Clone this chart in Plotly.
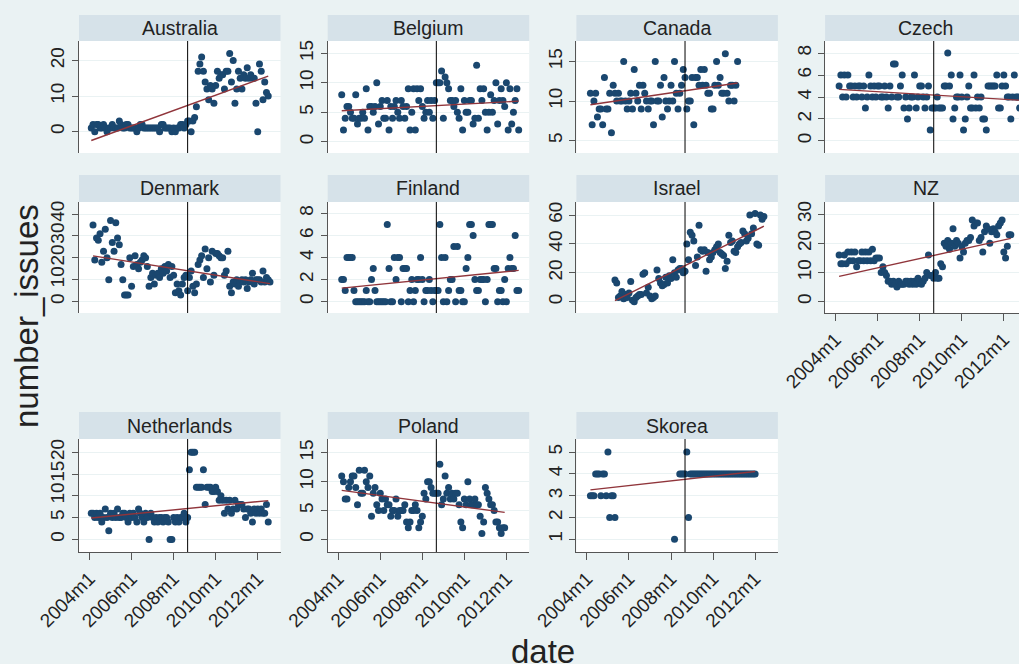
import numpy as np
import plotly.graph_objects as go

# ---------------- data (monthly number of issues) ----------------
countries = ["Australia", "Belgium", "Canada", "Czech", "Denmark", "Finland",
             "Israel", "NZ", "Netherlands", "Poland", "Skorea"]

tick_labels = ["2004m1", "2006m1", "2008m1", "2010m1", "2012m1"]
event_label = "2008m9"

australia_start = "2004m2"
australia = [1, 2, 0, 2, 2, 1, 1, 2, 1, 0, 1, 1, 2, 1, 1, 1, 3, 2, 1, 1,
             2, 2, 1, 1, 1, 1, 0, 1, 2, 2, 1, 1, 1, 1, 1, 1, 1, 1, 1, 0,
             2, 2, 1, 1, 1, 1, 0, 1, 0, 1, 1, 2, 2, 1,
             2, 3, 3, 0, 3, 4, 7,
             17, 19, 21, 17, 14, 12, 9, 13, 12, 8, 13, 17, 15, 16, 16, 12, 17, 17, 22, 14,
             20, 8, 12, 17, 15, 12, 16, 15, 18, 15, 16, 15, 15, 8, 0, 19, 17, 9, 14, 11, 10]

belgium_start = "2004m3"
belgium = [8, 2, 4, 6, 6, 5, 4, 4, 8, 3, 4, 4, 5, 4, 9, 2, 6, 6, 5, 6,
           10, 3, 6, 7, 4, 4, 7, 2, 6, 4, 6, 7, 5, 4, 7, 6, 4, 6, 9, 2,
           5, 9, 2, 9, 7, 9, 6, 4, 5, 7, 5, 7, 4, 7,
           10, 10, 10, 12, 4, 11, 10, 9, 7, 7, 6, 7, 5, 4, 9, 2, 7, 5, 5, 7,
           7, 3, 4, 13, 4, 9, 7, 9, 5, 2, 5, 8, 5, 7, 10, 3, 7, 9, 7, 6,
           10, 2, 9, 3, 5, 7, 9, 2]

canada_start = "2004m3"
canada = [11, 7, 10, 11, 8, 9, 9, 7, 13, 9, 9, 11, 6, 12, 11, 10, 11, 10, 10,
          15, 10, 9, 10, 11, 9, 14, 11, 10, 12, 9, 12, 11, 10, 9, 10, 10, 7, 15,
          10, 10, 12, 8, 13, 10, 9, 10, 12, 10, 15, 11, 9, 11, 12, 14, 13, 9, 10,
          10, 13, 7, 13, 13, 12, 14, 12, 14, 12, 11, 11, 9, 9, 12, 15, 12, 13, 11,
          11, 16, 11, 10, 12, 12, 10, 12, 15]

czech_start = "2004m3"
czech = [5, 6, 4, 6, 4, 6, 5, 5, 4, 5, 4, 5, 5, 4, 5, 3, 4, 6,
         5, 4, 5, 4, 5, 5, 4, 4, 5, 4, 3, 5, 4, 7, 7, 4, 4, 5, 6,
         3, 4, 2, 3, 4, 4, 6, 3, 4, 5, 5, 4, 3, 4, 5, 1, 3, 3, 3, 4,
         3, 3, 3, 5, 5, 8, 5, 6, 2, 3, 4, 4, 6, 4, 1, 2, 4, 5, 3, 3,
         6, 3, 4, 3, 4, 2, 2, 1, 5, 5, 5, 5, 5, 6, 3, 3, 5, 6, 5, 4,
         4, 2, 4, 6, 4, 4, 3]

denmark_start = "2004m3"
denmark = [35, 19, 29, 28, 31, 18, 23, 33, 20, 10, 37, 27, 23, 36, 29, 26, 17, 10, 3,
           3, 3, 20, 7, 16, 21, 17, 15, 18, 19, 21, 20, 16, 7, 11, 13, 8, 12, 13,
           11, 15, 13, 16, 14, 17, 11, 16, 12, 4, 8, 5, 3, 8, 11, 12, 5, 11, 14,
           7, 4, 8, 17, 19, 21, 11, 24, 15, 20, 9, 23, 12, 22, 22, 21, 20, 20, 12, 14,
           23, 7, 4, 9, 8, 10, 7, 9, 10, 9, 10, 6, 9, 10, 13, 8, 10, 10,
           10, 9, 14, 9, 11, 10, 9]

finland_start = "2004m3"
finland = [2, 2, 1, 4, 4, 4, 4, 1, 0, 0, 0, 0, 0, 0, 1, 0, 0, 2, 3, 1,
           0, 0, 0, 0, 0, 0, 7, 3, 0, 0, 4, 2, 4, 4, 0, 3, 3, 3,
           0, 1, 2, 0, 1, 2, 2, 4, 2, 0, 1, 1, 2, 1, 0, 1, 1, 1,
           7, 4, 0, 4, 0, 1, 2, 2, 5, 0, 5, 1, 1, 0, 0,
           3, 4, 7, 7, 6, 2, 1, 1, 2, 2, 2, 0, 2,
           7, 7, 7, 3, 3, 0, 1, 1, 0, 2, 0, 3, 4, 3, 3, 6, 1, 1]

israel_start = "2005m5"
israel = [15, 13, 3, 4, 7, 2, 5, 3, 6, 14, 1, 0, 3, 4, 5, 5, 19, 20,
          6, 10, 4, 2, 3, 4, 22, 16, 13, 11, 12, 17, 13, 18, 16, 29, 20, 17, 22,
          23, 23, 20, 21, 40, 29, 48, 46, 42, 25, 31, 53, 36, 35, 36, 21, 34, 29, 31, 34,
          36, 38, 40, 34, 33, 32, 23, 28, 46, 41, 42, 35, 34, 38, 40, 41, 49, 47,
          42, 44, 60, 47, 51, 61, 40, 39, 60, 57, 59]

nz_start = "2004m3"
nz = [16, 13, 13, 16, 13, 17, 14, 17, 14, 17, 12, 14, 14, 17, 14, 17, 14, 17, 14, 18,
      14, 15, 15, 15, 10, 12, 10, 9, 7, 7,
      6, 7, 6, 5, 7, 6, 6, 6, 7, 7, 6, 7, 6, 7, 6, 8, 7, 6, 7, 8, 10, 16, 9,
      9, 8, 10, 8, 8, 13, 12,
      20, 19, 21, 18, 20, 25, 19, 21, 20, 15, 19, 17, 20, 21, 21,
      22, 28, 26, 27, 27, 21, 22, 17, 24, 26,
      25, 20, 24, 25, 24, 23, 26, 27, 28, 17, 15, 19, 23, 23]

netherlands_start = "2004m2"
netherlands = [6, 6, 5, 6, 5, 6, 4, 5, 7, 5, 2, 6, 5, 6, 5, 7, 5, 5, 6, 6,
               5, 4, 6, 5, 6, 5, 4, 7, 6, 5, 4, 6, 5, 0, 6, 5, 4, 5, 4, 5,
               5, 4, 5, 5, 4, 0, 0, 5, 4, 5, 4, 5, 5, 6, 4,
               5, 16, 20, 20, 20, 12, 12, 12, 12, 16, 8, 12, 12, 12, 11, 11, 12, 11, 9, 10,
               9, 6, 9, 7, 9, 6, 7, 9, 7, 8, 8, 8, 7, 5, 7, 7, 6, 4, 7, 6,
               7, 6, 7, 6, 6, 8, 4]

poland_start = "2004m3"
poland = [11, 10, 7, 7, 9, 10, 11, 11, 9, 6, 12, 8, 8, 12, 10, 9, 11, 4, 8, 9,
          6, 5, 8, 7, 5, 7, 6, 6, 4, 5, 5, 7, 4, 5, 5, 5, 6, 3,
          2, 3, 5, 5, 6, 5, 2, 3, 4, 8, 7, 10, 10, 9, 8, 8, 8, 8, 13, 6,
          7, 11, 8, 9, 7, 8, 7, 8, 8, 6, 3, 2, 7, 6, 10, 7, 6, 6, 7,
          6, 6, 4, 1, 3, 9, 8, 7, 6, 6, 5, 3, 3, 2, 1, 2, 2]

skorea_start_a = "2004m3"
skorea_a = [3, 3, 3, 4, 4, 4, 3, 4, 4, 3, 5, 2, 3, 3, 2]
skorea_start_b = "2008m3"
skorea_b = [1]
skorea_start_c = "2008m6"
skorea_c = [4, 4, 4, 4, 5, 2, 4, 4, 4, 4, 4, 4, 4, 4, 4, 4, 4, 4, 4, 4, 4, 4,
            4, 4, 4, 4, 4, 4, 4, 4, 4, 4, 4, 4, 4, 4, 4, 4, 4, 4, 4, 4, 4, 4]


def month_index(label):
    y, m = label.split("m")
    return (int(y) - 2004) * 12 + int(m) - 1


def series(start, values):
    s = month_index(start)
    return list(range(s, s + len(values))), list(values)


data = {
    "Australia": series(australia_start, australia),
    "Belgium": series(belgium_start, belgium),
    "Canada": series(canada_start, canada),
    "Czech": series(czech_start, czech),
    "Denmark": series(denmark_start, denmark),
    "Finland": series(finland_start, finland),
    "Israel": series(israel_start, israel),
    "NZ": series(nz_start, nz),
    "Netherlands": series(netherlands_start, netherlands),
    "Poland": series(poland_start, poland),
}
sk = [series(skorea_start_a, skorea_a), series(skorea_start_b, skorea_b),
      series(skorea_start_c, skorea_c)]
data["Skorea"] = (sum([a[0] for a in sk], []), sum([a[1] for a in sk], []))

# ---------------- styling / layout ----------------
W, H = 1019, 664
BG = "#EAF2F3"
STRIP = "#D6E2E9"
NAVY = "#1A476F"
MAROON = "#90353B"
FONT = "Liberation Sans, Arial, sans-serif"
TXT = "#222222"
AX = "#555555"

grid_pos = {"Australia": (0, 0), "Belgium": (0, 1), "Canada": (0, 2), "Czech": (0, 3),
            "Denmark": (1, 0), "Finland": (1, 1), "Israel": (1, 2), "NZ": (1, 3),
            "Netherlands": (2, 0), "Poland": (2, 1), "Skorea": (2, 2)}
yaxis_cfg = {
    "Australia": ([-6, 25.5], [0, 10, 20]),
    "Belgium": ([-1.9, 17.1], [0, 5, 10, 15]),
    "Canada": ([3.44, 17.6], [5, 10, 15]),
    "Czech": ([-1.1, 9.1], [0, 2, 4, 6, 8]),
    "Denmark": ([-5.2, 45.5], [0, 10, 20, 30, 40]),
    "Finland": ([-1.03, 9.03], [0, 2, 4, 6, 8]),
    "Israel": ([-7.8, 69], [0, 20, 40, 60]),
    "NZ": ([-3.9, 34.2], [0, 10, 20, 30]),
    "Netherlands": ([-2.9, 23.06], [0, 5, 10, 15, 20]),
    "Poland": ([-2.2, 17.4], [0, 5, 10, 15]),
    "Skorea": ([0.42, 5.6], [1, 2, 3, 4, 5]),
}
xticks_on = {"NZ", "Netherlands", "Poland", "Skorea"}

col_left = [79.0, 327.7, 576.4, 825.1]
col_w = 201.5
px_per_month = col_w / 115.0
x_lo = -6.0
rows = [(15, 41, 153), (175, 202, 313), (412, 439, 552)]  # strip top, plot top, plot bottom

tickvals = [month_index(t) for t in tick_labels]
event_x = month_index(event_label)

fig = go.Figure()
layout = dict(width=W, height=H, paper_bgcolor=BG, plot_bgcolor="white",
              margin=dict(l=0, r=0, t=0, b=0, pad=0, autoexpand=False), showlegend=False,
              font=dict(family=FONT, color=TXT))
shapes, annotations = [], []

for i, name in enumerate(countries, start=1):
    r, c = grid_pos[name]
    x0p = col_left[c]
    x1p = min(x0p + col_w, W)
    stop, ptop, pbot = rows[r]
    xdom = [x0p / W, x1p / W]
    ydom = [1 - pbot / H, 1 - ptop / H]
    x_hi = x_lo + (x1p - x0p) / px_per_month
    yr, yt = yaxis_cfg[name]
    xs, ys = data[name]
    sfx = "" if i == 1 else str(i)

    fig.add_trace(go.Scatter(x=xs, y=ys, mode="markers", xaxis="x" + sfx, yaxis="y" + sfx,
                             marker=dict(color=NAVY, size=7, line=dict(width=0))))
    b, a = np.polyfit(np.array(xs, float), np.array(ys, float), 1)
    fx = [min(xs), max(xs)]
    fig.add_trace(go.Scatter(x=fx, y=[a + b * v for v in fx], mode="lines",
                             xaxis="x" + sfx, yaxis="y" + sfx,
                             line=dict(color=MAROON, width=1.4)))

    show_x = name in xticks_on
    layout["xaxis" + sfx] = dict(domain=xdom, range=[x_lo, x_hi], anchor="y" + sfx,
                                 automargin=False, showgrid=False, zeroline=False,
                                 showline=show_x, linecolor=AX, linewidth=1,
                                 ticks="outside" if show_x else "", ticklen=7,
                                 tickcolor=AX, tickvals=tickvals,
                                 ticktext=tick_labels, showticklabels=show_x,
                                 tickangle=-45, tickfont=dict(size=19, color=TXT, family=FONT))
    layout["yaxis" + sfx] = dict(domain=ydom, range=yr, anchor="x" + sfx, automargin=False,
                                 tickvals=yt, ticks="outside", ticklen=6, tickcolor=AX,
                                 showline=True, linecolor=AX, linewidth=1,
                                 showgrid=True, gridcolor=BG, gridwidth=1, zeroline=False,
                                 tickangle=-90, tickfont=dict(size=19, color=TXT, family=FONT))
    shapes.append(dict(type="line", xref="x" + sfx, yref="y" + sfx + " domain",
                       x0=event_x, x1=event_x, y0=0, y1=1,
                       line=dict(color="black", width=1)))
    shapes.append(dict(type="rect", xref="paper", yref="paper", layer="below",
                       x0=x0p / W, x1=(x0p + col_w) / W, y0=1 - ptop / H, y1=1 - stop / H,
                       fillcolor=STRIP, line=dict(width=0)))
    annotations.append(dict(text=name, xref="paper", yref="paper", showarrow=False,
                            x=(x0p + col_w / 2) / W, y=1 - (stop + ptop) / 2 / H,
                            xanchor="center", yanchor="middle",
                            font=dict(size=19.5, color=TXT, family=FONT)))

annotations.append(dict(text="number_issues", xref="paper", yref="paper", showarrow=False,
                        x=27 / W, y=1 - 316 / H, textangle=-90, xanchor="center",
                        yanchor="middle", font=dict(size=33, color=TXT, family=FONT)))
annotations.append(dict(text="date", xref="paper", yref="paper", showarrow=False,
                        x=543 / W, y=1 - 651 / H, xanchor="center", yanchor="middle",
                        font=dict(size=33, color=TXT, family=FONT)))

layout["shapes"] = shapes
layout["annotations"] = annotations
fig.update_layout(**layout)
fig.write_html("out.html", config={"displayModeBar": False},
               post_script="document.body.style.margin='0';document.body.style.background='%s';" % BG)
